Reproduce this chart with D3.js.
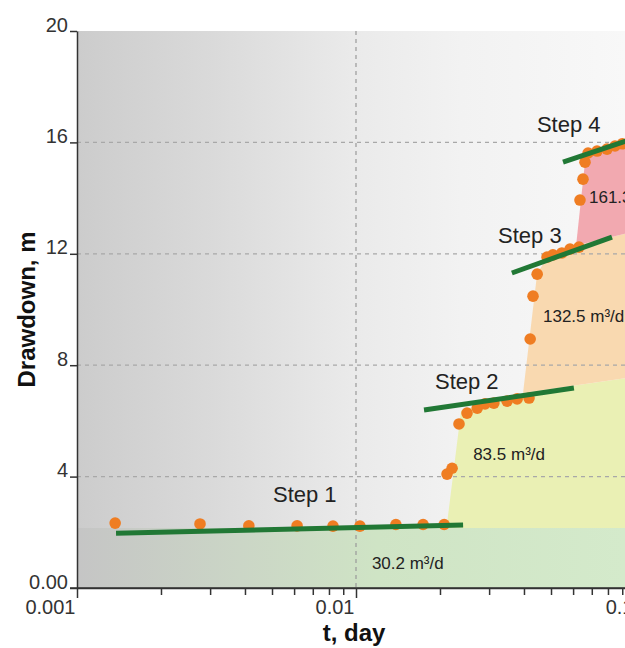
<!DOCTYPE html>
<html>
<head>
<meta charset="utf-8">
<script src="https://cdn.jsdelivr.net/npm/d3@7"></script>
<style>
body { margin: 0; background: #fff; }
svg text { font-family: "Liberation Sans", Arial, sans-serif; fill: #333; }
.axis path, .axis line { stroke: #333; stroke-width: 1.5; fill: none; }
.title { font-size: 24px; font-weight: bold; fill: #111; }
.step { font-size: 22px; fill: #222; }
.rate { font-size: 17px; fill: #222; }
</style>
</head>
<body>
<div id="chart"></div>
<script>
// axis ticks
var yTicks = [0, 4, 8, 12, 16, 20];
var yTickLabels = ["0.00", "4", "8", "12", "16", "20"];
var xMajor = [0.001, 0.01, 0.1];
var xMajorLabels = ["0.001", "0.01", "0.1"];

// observed drawdown (t in days, s in m)
var obsT = [0.00137, 0.00276, 0.00413, 0.00615, 0.00827, 0.01033, 0.0139, 0.0174, 0.0207,
            0.0212, 0.0221, 0.0234, 0.0250, 0.0272, 0.0290, 0.0312, 0.0348, 0.0378, 0.0417,
            0.0421, 0.0431, 0.0446, 0.0484, 0.0508, 0.0547, 0.0585, 0.0630,
            0.0635, 0.0651, 0.0662, 0.0679, 0.0731, 0.0794, 0.0848, 0.0900];
var obsS = [2.33, 2.30, 2.23, 2.23, 2.22, 2.22, 2.28, 2.28, 2.28,
            4.09, 4.30, 5.89, 6.28, 6.46, 6.61, 6.64, 6.71, 6.79, 6.82,
            8.94, 10.48, 11.27, 11.88, 11.96, 12.03, 12.17, 12.24,
            13.93, 14.68, 15.29, 15.62, 15.69, 15.76, 15.87, 15.95];

// straight-line fits per step
var stepNames = ["Step 1", "Step 2", "Step 3", "Step 4"];
var stepRates = ["30.2", "83.5", "132.5", "161.3"];
var fitT = [[0.00138, 0.0242], [0.01753, 0.0604], [0.0362, 0.0827], [0.0552, 0.095]];
var fitS = [[1.97, 2.26], [6.39, 7.18], [11.31, 12.6], [15.29, 16.08]];

// step areas (t, s vertices)
var area1 = [[0.001, 0], [0.001, 2.15], [0.12, 2.15], [0.12, 0]];
var area2 = [[0.0211, 2.15], [0.0238, 6.36], [0.029, 6.61], [0.0348, 6.75], [0.0397, 7.0], [0.12, 7.7], [0.12, 2.15]];
var area3 = [[0.0397, 7.0], [0.0446, 11.3], [0.0484, 11.85], [0.0547, 12.0], [0.0615, 12.3], [0.12, 13.0], [0.12, 7.7]];
var area4 = [[0.0615, 12.3], [0.0662, 15.3], [0.0731, 15.7], [0.0848, 15.9], [0.12, 16.25], [0.12, 13.0]];

var W = 625, H = 648;
var x = d3.scaleLog().domain([0.001, 0.1]).range([77, 635]);
var y = d3.scaleLinear().domain([0, 20]).range([588, 31]);

var svg = d3.select("#chart").append("svg")
  .attr("width", W).attr("height", H);

var defs = svg.append("defs");
function gradient(id, stops) {
  var g = defs.append("linearGradient").attr("id", id)
    .attr("gradientUnits", "userSpaceOnUse")
    .attr("x1", 77).attr("x2", 625).attr("y1", 0).attr("y2", 0);
  stops.forEach(function(s) {
    g.append("stop").attr("offset", s[0]).attr("stop-color", s[1]);
  });
}
gradient("bg", [[0, "#cccccc"], [0.25, "#dadada"], [0.5, "#eaeaea"], [0.7, "#f2f2f2"], [1, "#f8f8f8"]]);
gradient("band", [[0, "#c5c5c5"], [0.3, "#cbd6c6"], [0.55, "#cfe4c5"], [1, "#d4eacb"]]);

// plot background
svg.append("rect")
  .attr("x", x(0.001)).attr("y", y(20))
  .attr("width", x(0.1) - x(0.001)).attr("height", y(0) - y(20))
  .attr("fill", "url(#bg)");

var poly = d3.line().x(function(d) { return x(d[0]); }).y(function(d) { return y(d[1]); });
function drawArea(pts, fill) {
  svg.append("path").attr("d", poly(pts) + "Z").attr("fill", fill);
}
drawArea(area1, "url(#band)");
drawArea(area2, "#eaf0b4");
drawArea(area3, "#f9d9b0");
drawArea(area4, "#f2a9b0");

// grid
svg.append("g").selectAll("line")
  .data(yTicks.filter(function(d) { return d > 0 && d < 20; }))
  .enter().append("line")
    .attr("x1", x(0.001)).attr("x2", W)
    .attr("y1", function(d) { return y(d); }).attr("y2", function(d) { return y(d); })
    .attr("stroke", "#a8a8a8").attr("stroke-width", 1.2)
    .attr("stroke-dasharray", "4,4");
svg.append("line")
  .attr("x1", x(0.01)).attr("x2", x(0.01))
  .attr("y1", y(20)).attr("y2", y(0))
  .attr("stroke", "#999").attr("stroke-width", 1.2)
  .attr("stroke-dasharray", "4,4");

// observations
svg.append("g").selectAll("circle")
  .data(obsT).enter().append("circle")
    .attr("cx", function(d) { return x(d); })
    .attr("cy", function(d, i) { return y(obsS[i]); })
    .attr("r", 5.8)
    .attr("fill", "#ef7d22");

// fitted lines
svg.append("g").selectAll("line")
  .data(fitT).enter().append("line")
    .attr("x1", function(d) { return x(d[0]); })
    .attr("x2", function(d) { return x(d[1]); })
    .attr("y1", function(d, i) { return y(fitS[i][0]); })
    .attr("y2", function(d, i) { return y(fitS[i][1]); })
    .attr("stroke", "#217835").attr("stroke-width", 5);

// axes
var xMinor = [];
[0.001, 0.01].forEach(function(dec) {
  for (var k = 2; k <= 9; k++) xMinor.push(dec * k);
});

svg.append("g").attr("class", "axis")
  .attr("transform", "translate(0," + y(0) + ")")
  .call(d3.axisBottom(x).tickValues(xMinor).tickSize(7).tickSizeOuter(0).tickFormat(""));

var xAx = svg.append("g").attr("class", "axis")
  .attr("transform", "translate(0," + y(0) + ")")
  .call(d3.axisBottom(x).tickValues(xMajor).tickSize(10).tickSizeOuter(0)
    .tickFormat(function(d, i) { return xMajorLabels[i]; }));
xAx.select(".domain").remove();
xAx.attr("font-size", 20).attr("font-family", null);
xAx.selectAll("text").attr("text-anchor", "end").attr("x", -2).attr("y", 12).attr("fill", "#333");

var yAx = svg.append("g").attr("class", "axis")
  .attr("transform", "translate(" + x(0.001) + ",0)")
  .call(d3.axisLeft(y).tickValues(yTicks).tickSize(7).tickSizeOuter(0)
    .tickFormat(function(d, i) { return yTickLabels[i]; }));
yAx.attr("font-size", 20).attr("font-family", null);
yAx.selectAll("text").attr("dy", "0").attr("x", -9).attr("fill", "#333");
// x axis line extends left to the y tick
svg.append("line").attr("class", "axis")
  .attr("x1", x(0.001) - 7).attr("x2", W)
  .attr("y1", y(0)).attr("y2", y(0))
  .attr("stroke", "#333").attr("stroke-width", 1.5);

// axis titles
svg.append("text").attr("class", "title")
  .attr("transform", "translate(35," + ((y(0) + y(20)) / 2) + ") rotate(-90)")
  .attr("text-anchor", "middle")
  .text("Drawdown, m");
svg.append("text").attr("class", "title")
  .attr("x", 354).attr("y", 641)
  .attr("text-anchor", "middle")
  .text("t, day");

// step labels
var stepPos = [[0.00504, 3.09], [0.01919, 7.15], [0.0323, 12.39], [0.0445, 16.37]];
svg.append("g").selectAll("text")
  .data(stepNames).enter().append("text")
    .attr("class", "step")
    .attr("x", function(d, i) { return x(stepPos[i][0]); })
    .attr("y", function(d, i) { return y(stepPos[i][1]); })
    .text(function(d) { return d; });

var ratePos = [[0.0114, 0.68], [0.0263, 4.6], [0.0468, 9.55], [0.0684, 13.82]];
svg.append("g").selectAll("text")
  .data(stepRates).enter().append("text")
    .attr("class", "rate")
    .attr("x", function(d, i) { return x(ratePos[i][0]); })
    .attr("y", function(d, i) { return y(ratePos[i][1]); })
    .text(function(d) { return d + " m³/d"; });
</script>
</body>
</html>
